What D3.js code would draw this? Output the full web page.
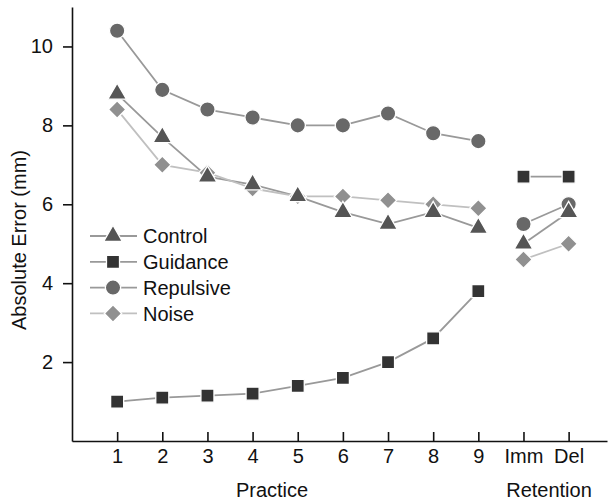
<!DOCTYPE html>
<html>
<head>
<meta charset="utf-8">
<script src="https://cdn.jsdelivr.net/npm/d3@7"></script>
<style>
  body { margin: 0; background: #fff; }
  svg { font-family: "Liberation Sans", Arial, sans-serif; }
</style>
</head>
<body>
<div id="chart"></div>
<script>
// ========== DATA ==========
const practiceLabels = ['1', '2', '3', '4', '5', '6', '7', '8', '9'];
const retentionLabels = ['Imm', 'Del'];
const yTicks = [2, 4, 6, 8, 10];

const control   = [8.8, 7.7, 6.7, 6.5, 6.2, 5.8, 5.5, 5.8, 5.4, 5.0, 5.8];
const guidance  = [1.0, 1.1, 1.15, 1.2, 1.4, 1.6, 2.0, 2.6, 3.8, 6.7, 6.7];
const repulsive = [10.4, 8.9, 8.4, 8.2, 8.0, 8.0, 8.3, 7.8, 7.6, 5.5, 6.0];
const noise     = [8.4, 7.0, 6.8, 6.4, 6.2, 6.2, 6.1, 6.0, 5.9, 4.6, 5.0];

const series = [
  { name: 'Control',   values: control,   symbol: d3.symbolTriangle, size: 150, rot: 0,  fill: '#555', line: '#999' },
  { name: 'Guidance',  values: guidance,  symbol: d3.symbolSquare,   size: 170, rot: 0,  fill: '#333', line: '#999' },
  { name: 'Repulsive', values: repulsive, symbol: d3.symbolCircle,   size: 185, rot: 0,  fill: '#686868', line: '#999' },
  { name: 'Noise',     values: noise,     symbol: d3.symbolSquare,   size: 150, rot: 45, fill: '#909090', line: '#c0c0c0' }
];

// ========== CHART ==========
const W = 608, H = 503;
const margin = { top: 7, right: 1, bottom: 62, left: 72 };
const width = W - margin.left - margin.right;
const height = H - margin.top - margin.bottom;
const FS = '20px';

const svg = d3.select('#chart').append('svg').attr('width', W).attr('height', H);
const g = svg.append('g').attr('transform', `translate(${margin.left},${margin.top})`);

const allLabels = [...practiceLabels, ...retentionLabels];
const x = d3.scaleLinear().domain([0, 11.85]).range([0, width]);
const y = d3.scaleLinear().domain([0, 11]).range([height, 0]);
const xPos = i => x(i + 1);

// Axes
const xAxis = g.append('g').attr('transform', `translate(0,${height})`)
  .call(d3.axisBottom(x).tickValues(allLabels.map((_, i) => i + 1))
    .tickFormat((d) => allLabels[d - 1]).tickSizeInner(-9).tickSizeOuter(0));
xAxis.selectAll('.tick text').attr('y', 22).attr('dy', 0)
  .style('font-size', FS).style('fill', '#111');

const yAxis = g.append('g')
  .call(d3.axisLeft(y).tickValues(yTicks).tickSizeInner(9).tickSizeOuter(0).tickPadding(10));
yAxis.selectAll('text').style('font-size', FS).style('fill', '#111');
svg.selectAll('.domain, .tick line').attr('stroke', '#111').attr('stroke-width', 1.6);

// Axis titles
svg.append('text').attr('x', 272).attr('y', 497).attr('text-anchor', 'middle')
  .style('font-size', FS).style('fill', '#111').text('Practice');
svg.append('text').attr('x', 549).attr('y', 497).attr('text-anchor', 'middle')
  .style('font-size', FS).style('fill', '#111').text('Retention');
svg.append('text').attr('transform', 'translate(26,240) rotate(-90)')
  .attr('text-anchor', 'middle').style('font-size', FS).style('fill', '#111')
  .text('Absolute Error (mm)');

// Lines (practice and retention drawn separately)
const line = d3.line().x(d => xPos(d.i)).y(d => y(d.v));
series.forEach(s => {
  const pts = s.values.map((v, i) => ({ v, i }));
  [pts.slice(0, 9), pts.slice(9)].forEach(seg => {
    g.append('path').datum(seg).attr('d', line)
      .attr('fill', 'none').attr('stroke', s.line).attr('stroke-width', 1.8);
  });
});

// Markers
[...series].reverse().forEach(s => {
  g.selectAll(null).data(s.values).enter().append('path')
    .attr('d', d3.symbol().type(s.symbol).size(s.size))
    .attr('transform', (d, i) => `translate(${xPos(i)},${y(d)}) rotate(${s.rot})`)
    .attr('fill', s.fill).attr('stroke', '#fff').attr('stroke-width', 1.3);
});

// Legend
const legend = svg.append('g').attr('transform', 'translate(90,236)');
series.forEach((s, k) => {
  const row = legend.append('g').attr('transform', `translate(0,${k * 25.8})`);
  row.append('line').attr('x1', 0).attr('x2', 47).attr('stroke', s.line).attr('stroke-width', 1.8);
  row.append('path').attr('d', d3.symbol().type(s.symbol).size(s.size))
    .attr('transform', `translate(23,0) rotate(${s.rot})`)
    .attr('fill', s.fill).attr('stroke', '#fff').attr('stroke-width', 1.3);
  row.append('text').attr('x', 53).attr('y', 0).attr('dy', '0.36em')
    .style('font-size', FS).style('fill', '#111').text(s.name);
});
</script>
</body>
</html>
